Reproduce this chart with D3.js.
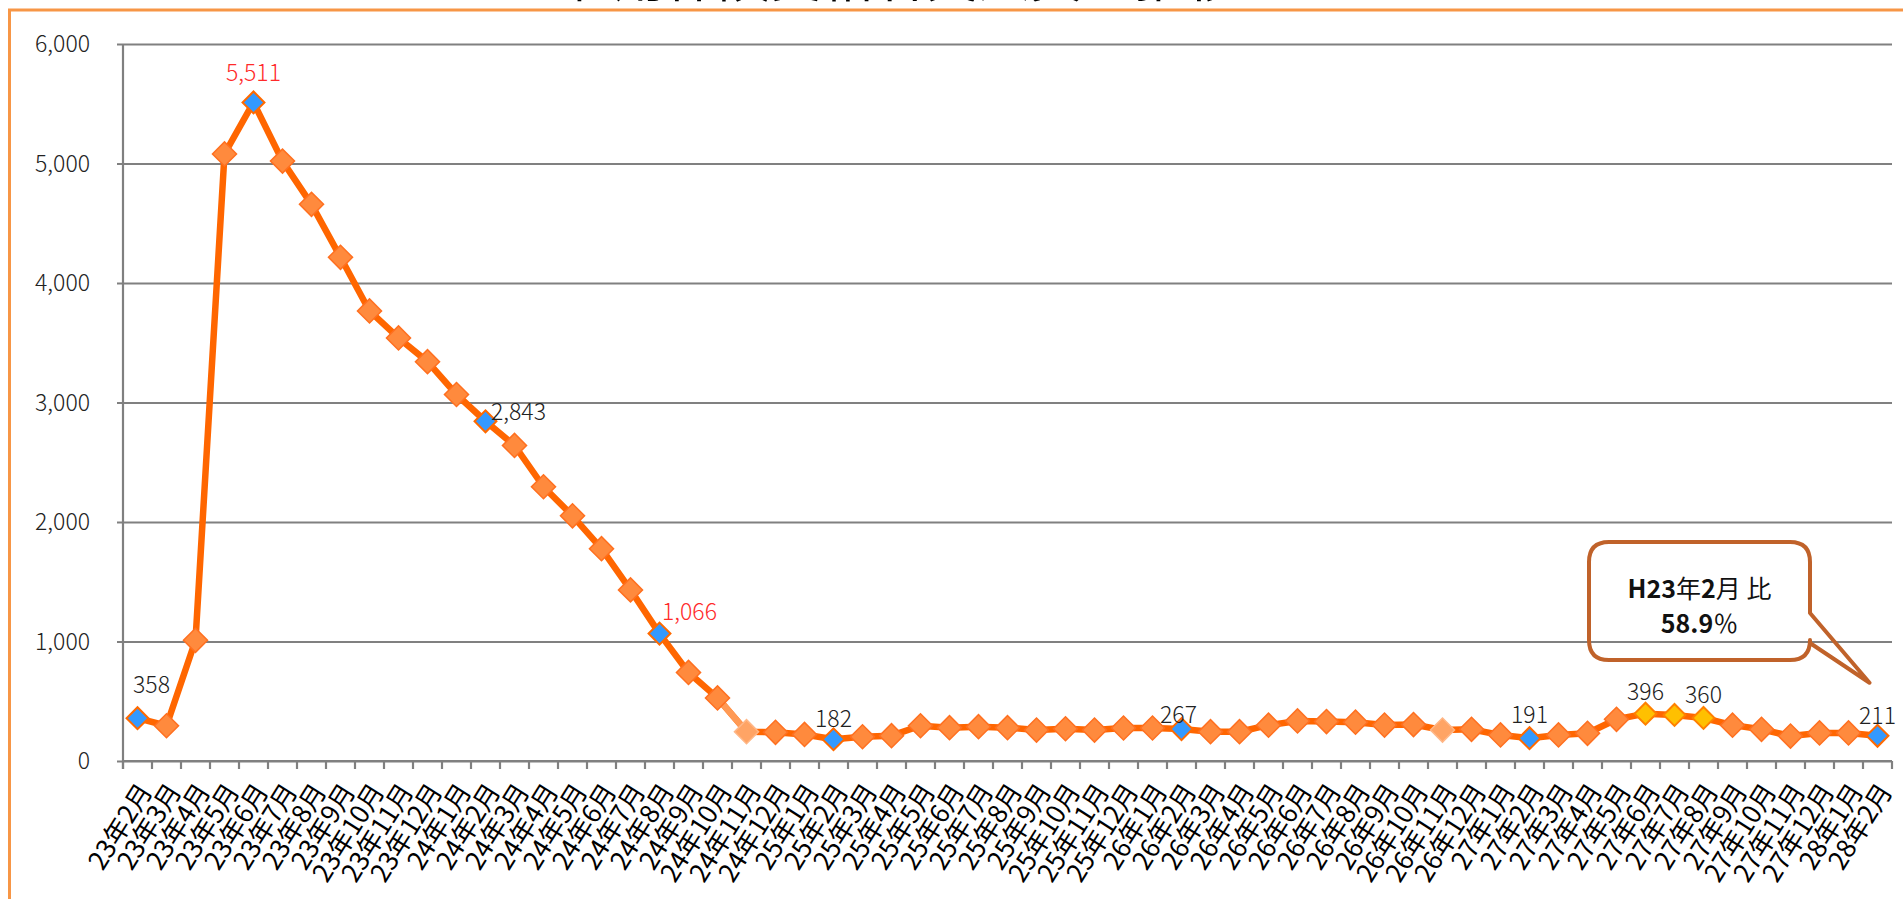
<!DOCTYPE html>
<html><head><meta charset="utf-8">
<script src="https://cdn.jsdelivr.net/npm/d3@7"></script>
<style>body{margin:0;background:#fff;overflow:hidden} svg{display:block}</style>
</head><body>
<svg id="c" width="1903" height="899"></svg>
<script>
// ---------- data ----------
const titleText = "雇用保険受給者実人員の推移";
const categories = [
 "23年2月","23年3月","23年4月","23年5月","23年6月","23年7月","23年8月","23年9月","23年10月","23年11月","23年12月",
 "24年1月","24年2月","24年3月","24年4月","24年5月","24年6月","24年7月","24年8月","24年9月","24年10月","24年11月","24年12月",
 "25年1月","25年2月","25年3月","25年4月","25年5月","25年6月","25年7月","25年8月","25年9月","25年10月","25年11月","25年12月",
 "26年1月","26年2月","26年3月","26年4月","26年5月","26年6月","26年7月","26年8月","26年9月","26年10月","26年11月","26年12月",
 "27年1月","27年2月","27年3月","27年4月","27年5月","27年6月","27年7月","27年8月","27年9月","27年10月","27年11月","27年12月",
 "28年1月","28年2月"];
const values = [
 358,295,1010,5080,5511,5020,4658,4215,3766,3540,3342,
 3067,2843,2641,2295,2052,1777,1432,1066,741,528,245,240,
 222,182,203,212,295,279,287,279,259,270,259,276,
 276,267,245,245,300,335,330,325,301,305,259,265,
 218,191,218,232,349,396,385,360,300,265,209,235,
 235,211];
const yTicks = [0,1000,2000,3000,4000,5000,6000];
const bluePoints = [0,4,12,18,24,36,48,60];
const yellowPoints = [52,53,54];
const fadedPoints = [21,45];
const labelPoints = [0,4,12,18,24,36,48,52,54,60];
const redLabelPoints = [4,18];
const calloutLine1 = [["H23",700],["年",400],["2",700],["月 比",400]];
const calloutLine2 = [["58.9",700],["％",400]];

// ---------- layout ----------
const svg = d3.select("#c");
const X0 = 123, X1 = 1892, Y0 = 761, Y1 = 44;
const x = d3.scaleBand().domain(categories).range([X0, X1]).padding(0);
const cx = i => x(categories[i]) + x.bandwidth()/2;
const y = d3.scaleLinear().domain([0, 6000]).range([Y0, Y1]);
const FONT = "'Noto Sans CJK JP','Noto Sans',sans-serif";
const GRID = "#808080";

// title (cut off at top, above the frame)
svg.append("text").attr("x",900).attr("y",-3).attr("text-anchor","middle")
  .attr("font-family",FONT).attr("font-size",52).attr("fill","#000").text(titleText);

// frame
svg.append("rect").attr("x",9.5).attr("y",10).attr("width",2100).attr("height",1100)
  .attr("fill","none").attr("stroke","#F79646").attr("stroke-width",3);

// y grid + labels
const yAxis = d3.axisLeft(y).tickValues(yTicks).tickSize(-(X1-117)).tickPadding(27)
  .tickFormat(d3.format(","));
const gy = svg.append("g").attr("transform","translate(117,0)").call(yAxis);
gy.select(".domain").remove();
gy.selectAll(".tick line").attr("stroke",GRID).attr("stroke-width",2.2);
gy.selectAll(".tick text").attr("font-family",FONT).attr("font-size",23).attr("font-weight",300)
  .attr("fill","#222").attr("dy","0.34em");

// y axis line
svg.append("line").attr("x1",X0).attr("x2",X0).attr("y1",Y1).attr("y2",Y0+8)
  .attr("stroke",GRID).attr("stroke-width",2.2);

// x axis ticks at band boundaries
const bounds = categories.map(c => x(c)).concat([X1]);
svg.append("g").selectAll("line").data(bounds).join("line")
  .attr("x1",d=>d).attr("x2",d=>d).attr("y1",Y0).attr("y2",Y0+8)
  .attr("stroke",GRID).attr("stroke-width",2.2);
svg.append("line").attr("x1",X0).attr("x2",X1).attr("y1",Y0).attr("y2",Y0)
  .attr("stroke",GRID).attr("stroke-width",2.2);

// x labels
const xAxis = d3.axisBottom(x).tickSize(0).tickPadding(0);
const gx = svg.append("g").attr("transform",`translate(0,${Y0})`).call(xAxis);
gx.select(".domain").remove();
gx.selectAll(".tick text")
  .attr("font-family",FONT).attr("font-size",26).attr("fill","#000")
  .attr("text-anchor","end").attr("y",0).attr("dy","0.35em")
  .attr("transform","translate(8,25) rotate(-58)");

// line
const pts = values.map((v,i)=>[cx(i), y(v)]);
svg.append("path").attr("d", d3.line()(pts)).attr("fill","none")
  .attr("stroke","#FF6600").attr("stroke-width",6.5).attr("stroke-linejoin","round");
svg.append("path").attr("d", d3.line()([pts[20],pts[21]])).attr("fill","none")
  .attr("stroke","#FF9A55").attr("stroke-width",6.5);

// markers
const sq = d3.symbol().type(d3.symbolSquare);
function style(i){
  if (bluePoints.includes(i)) return {fill:"#3399FF",stroke:"#FF6A00",size:240,sw:2};
  if (yellowPoints.includes(i)) return {fill:"#FFC000",stroke:"#FF8000",size:240,sw:2};
  if (fadedPoints.includes(i)) return {fill:"#FFA465",stroke:"#FFB787",size:290,sw:1.5};
  return {fill:"#FF8A3D",stroke:"#FF7020",size:290,sw:1.5};
}
svg.append("g").selectAll("path").data(values).join("path")
  .attr("d",(d,i)=>sq.size(style(i).size)())
  .attr("transform",(d,i)=>`translate(${cx(i)},${y(d)}) rotate(45)`)
  .attr("fill",(d,i)=>style(i).fill).attr("stroke",(d,i)=>style(i).stroke)
  .attr("stroke-width",(d,i)=>style(i).sw);

// data labels
const labelOffset = {0:[14,-25],4:[0,-21],12:[33,-1],18:[30,-14],24:[0,-12],36:[-3,-6],48:[0,-15],52:[0,-14],54:[0,-15],60:[0,-12]};
svg.append("g").selectAll("text").data(labelPoints).join("text")
  .attr("x",i=>cx(i)+labelOffset[i][0]).attr("y",i=>y(values[i])+labelOffset[i][1])
  .attr("text-anchor","middle").attr("font-family",FONT).attr("font-size",23).attr("font-weight",300)
  .attr("fill",i=>redLabelPoints.includes(i)?"#FF2A2A":"#222")
  .text(i=>d3.format(",")(values[i]));

// callout
const L = values.length-1, tx = cx(L)-8, ty = y(values[L])-53;
const bx0 = 1589, bx1 = 1810, by0 = 542, by1 = 660, r = 20;
const p = d3.path();
p.moveTo(bx0+r,by0); p.lineTo(bx1-r,by0); p.quadraticCurveTo(bx1,by0,bx1,by0+r);
p.lineTo(bx1,613); p.lineTo(tx,ty); p.lineTo(bx1,643);
p.lineTo(bx1,by1-r); p.quadraticCurveTo(bx1,by1,bx1-r,by1);
p.lineTo(bx0+r,by1); p.quadraticCurveTo(bx0,by1,bx0,by1-r);
p.lineTo(bx0,by0+r); p.quadraticCurveTo(bx0,by0,bx0+r,by0); p.closePath();
svg.append("path").attr("d",p.toString()).attr("fill","none")
  .attr("stroke","#C0622A").attr("stroke-width",4).attr("stroke-linejoin","round");
function ctext(parts, yy){
  const t = svg.append("text").attr("x",(bx0+bx1)/2).attr("y",yy).attr("text-anchor","middle")
    .attr("font-family",FONT).attr("font-size",25).attr("fill","#111");
  parts.forEach(([s,w])=>t.append("tspan").attr("font-weight",w).text(s));
}
ctext(calloutLine1, 598);
ctext(calloutLine2, 633);
</script>
</body></html>
